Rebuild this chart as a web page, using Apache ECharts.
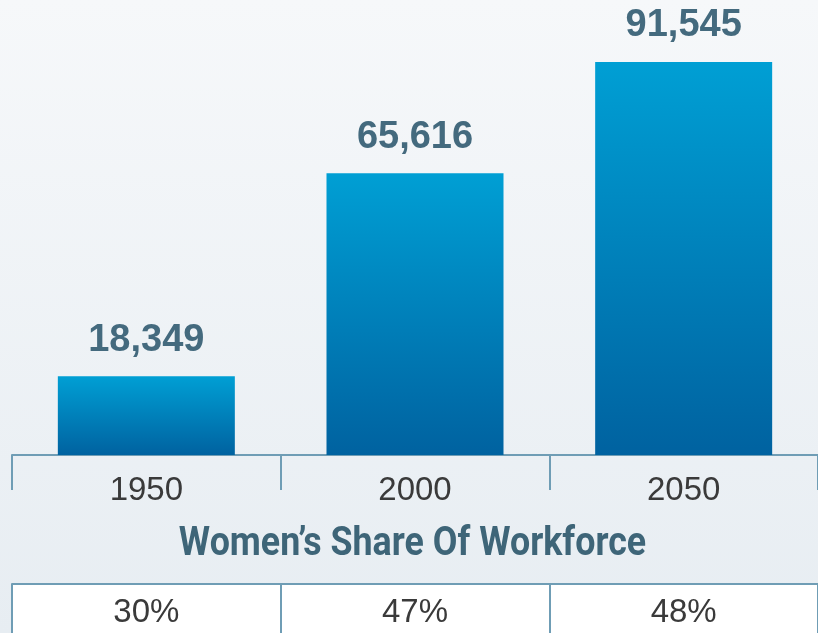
<!DOCTYPE html>
<html>
<head>
<meta charset="utf-8">
<script src="https://cdn.jsdelivr.net/npm/echarts@6/dist/echarts.min.js"></script>
<style>
html,body{margin:0;padding:0;}
#chart{width:818px;height:633px;}
</style>
</head>
<body>
<div id="chart"></div>
<script>
const years = ['1950', '2000', '2050'];
const workers = [18349, 65616, 91545];
const womenShare = ['30%', '47%', '48%'];
const titleText = 'Women\u2019s Share Of Workforce';

const lineColor = '#6f9db5';
const chart = echarts.init(document.getElementById('chart'), null, {renderer: 'canvas'});
chart.setOption({
  animation: false,
  backgroundColor: new echarts.graphic.LinearGradient(0, 0, 0, 1, [
    {offset: 0, color: '#f6f8fa'},
    {offset: 1, color: '#e7edf2'}
  ]),
  graphic: [{
    type: 'text',
    x: 412.5, y: 545,
    scaleX: 0.895,
    z: 10,
    style: {
      text: titleText,
      x: 0, y: 0,
      align: 'center', verticalAlign: 'middle',
      font: 'bold 40px Roboto, "Liberation Sans", sans-serif',
      fill: '#3e6578'
    }
  }],
  grid: [
    {left: 12, right: -1, top: 62, bottom: 633 - 455},
    {left: 12, right: -1, top: 584, bottom: 0, show: true, backgroundColor: '#ffffff', borderWidth: 0}
  ],
  xAxis: [
    {
      type: 'category', gridIndex: 0, data: years,
      axisLine: {lineStyle: {color: lineColor, width: 2}},
      axisTick: {show: true, length: 35, lineStyle: {color: lineColor, width: 2}},
      axisLabel: {margin: 19, fontSize: 33, color: '#3a3a3a', fontFamily: '"Liberation Sans", Arial, sans-serif'}
    },
    {
      type: 'category', gridIndex: 1, data: womenShare, position: 'top',
      axisLine: {onZero: false, lineStyle: {color: lineColor, width: 2}},
      axisTick: {show: false},
      splitLine: {show: true, lineStyle: {color: lineColor, width: 2}},
      axisLabel: {inside: true, margin: 12, fontSize: 33, color: '#3a3a3a', fontFamily: '"Liberation Sans", Arial, sans-serif'}
    }
  ],
  yAxis: [
    {type: 'value', gridIndex: 0, min: 0, max: 91545, show: false},
    {type: 'value', gridIndex: 1, min: 0, max: 1, show: false}
  ],
  series: [
    {
      type: 'bar', xAxisIndex: 0, yAxisIndex: 0,
      data: workers,
      barWidth: 177,
      itemStyle: {
        color: new echarts.graphic.LinearGradient(0, 0, 0, 1, [
          {offset: 0, color: '#009fd4'},
          {offset: 1, color: '#0062a0'}
        ])
      },
      label: {
        show: true, position: 'top', distance: 17,
        formatter: p => p.value.toLocaleString('en-US'),
        fontSize: 38, fontWeight: 'bold', color: '#446a7e',
        fontFamily: '"Liberation Sans", Arial, sans-serif'
      }
    },
    {
      type: 'bar', xAxisIndex: 1, yAxisIndex: 1,
      data: [0, 0, 0], silent: true, itemStyle: {opacity: 0}
    }
  ]
});
</script>
</body>
</html>
